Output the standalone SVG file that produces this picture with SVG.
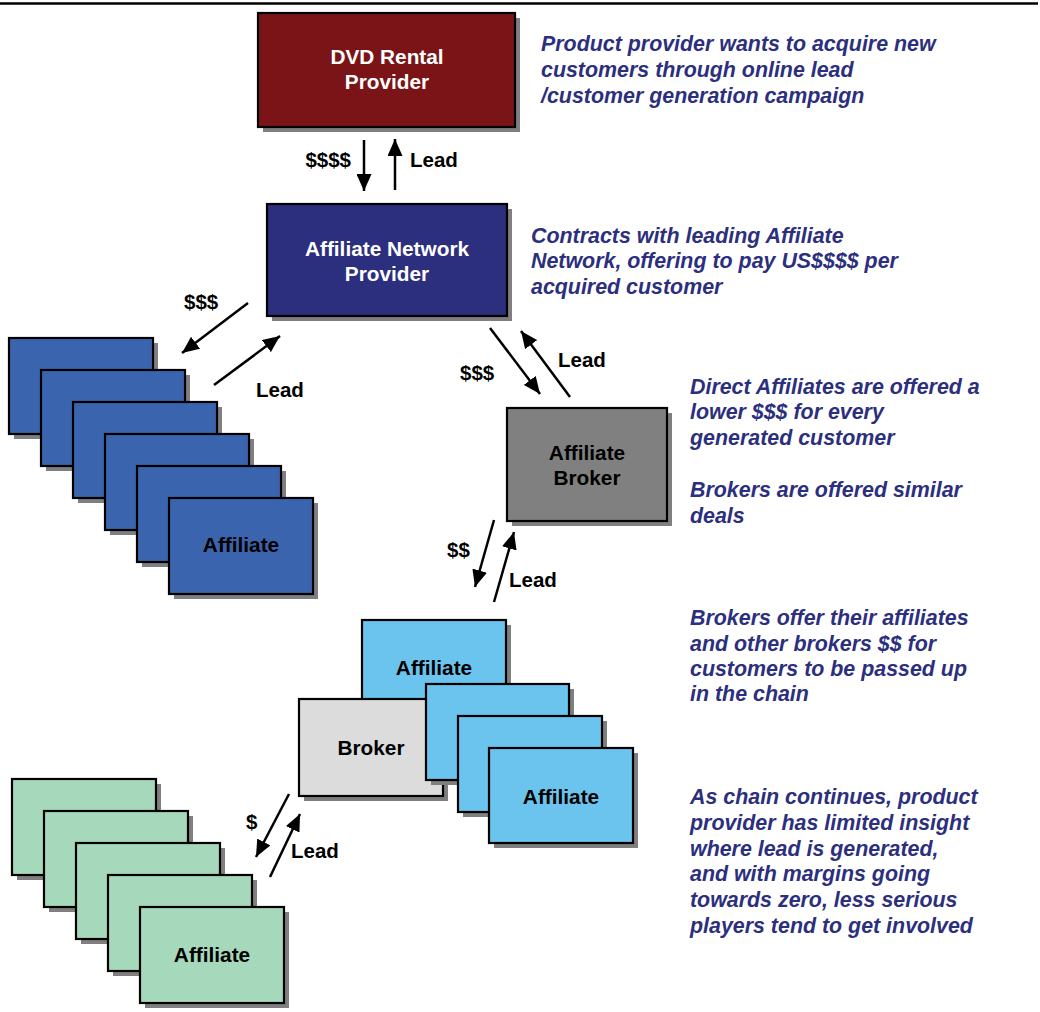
<svg xmlns="http://www.w3.org/2000/svg" width="1040" height="1012" viewBox="0 0 1040 1012">
<defs>
<style>
.sh{fill:#7f7f7f;stroke:none}
.bx{stroke:#000;stroke-width:2.2}
.dvd{fill:#7b1416}
.anp{fill:#2c2f7e}
.blue{fill:#3a65ae}
.gray{fill:#808080}
.lgray{fill:#dcdcdc}
.lblue{fill:#6bc4ee}
.green{fill:#a6d8bb}
.nt{font-family:"Liberation Sans",Arial,sans-serif;font-weight:bold;font-size:20.8px;text-anchor:middle}
.w{fill:#fff}
.k{fill:#000}
.lbl{font-family:"Liberation Sans",Arial,sans-serif;font-weight:bold;font-size:20.5px;fill:#000}
.note{font-family:"Liberation Sans",Arial,sans-serif;font-weight:bold;font-style:italic;font-size:21.4px;fill:#2c2f7e}
.ar{stroke:#000;stroke-width:2.5;fill:none;marker-end:url(#ah)}
</style>
<marker id="ah" markerUnits="userSpaceOnUse" markerWidth="17" markerHeight="15" refX="17" refY="7.5" orient="auto" viewBox="0 0 17 15">
<path d="M0,0 L17,7.5 L0,15 Z" fill="#000"/>
</marker>
</defs>
<rect width="1040" height="1012" fill="#fff"/>
<line x1="0" y1="3.5" x2="1038" y2="3.5" stroke="#000" stroke-width="2.5"/>

<g id="dvd-rental-provider">
<rect class="sh" x="263" y="18" width="257" height="114"/>
<rect class="bx dvd" x="258" y="13" width="257" height="114"/>
<text class="nt w" x="387" y="64">DVD Rental</text>
<text class="nt w" x="387" y="89">Provider</text>
</g>

<g id="affiliate-network-provider">
<rect class="sh" x="272" y="209" width="240" height="112"/>
<rect class="bx anp" x="267" y="204" width="240" height="112"/>
<text class="nt w" x="387" y="256">Affiliate Network</text>
<text class="nt w" x="387" y="281">Provider</text>
</g>

<g id="direct-affiliates">
<rect class="sh" x="14" y="343" width="144" height="96"/>
<rect class="bx blue" x="9" y="338" width="144" height="96"/>
<rect class="sh" x="46" y="375" width="144" height="96"/>
<rect class="bx blue" x="41" y="370" width="144" height="96"/>
<rect class="sh" x="78" y="407" width="144" height="96"/>
<rect class="bx blue" x="73" y="402" width="144" height="96"/>
<rect class="sh" x="110" y="439" width="144" height="96"/>
<rect class="bx blue" x="105" y="434" width="144" height="96"/>
<rect class="sh" x="142" y="471" width="144" height="96"/>
<rect class="bx blue" x="137" y="466" width="144" height="96"/>
<rect class="sh" x="174" y="503" width="144" height="96"/>
<rect class="bx blue" x="169" y="498" width="144" height="96"/>
<text class="nt k" x="241" y="552">Affiliate</text>
</g>

<g id="affiliate-broker">
<rect class="sh" x="512" y="413" width="160" height="113"/>
<rect class="bx gray" x="507" y="408" width="160" height="113"/>
<text class="nt k" x="587" y="460">Affiliate</text>
<text class="nt k" x="587" y="485">Broker</text>
</g>

<g id="broker-affiliate-top">
<rect class="sh" x="367" y="625" width="144" height="96"/>
<rect class="bx lblue" x="362" y="620" width="144" height="96"/>
<text class="nt k" x="434" y="675">Affiliate</text>
</g>

<g id="broker">
<rect class="sh" x="304" y="704" width="144" height="97"/>
<rect class="bx lgray" x="299" y="699" width="144" height="97"/>
<text class="nt k" x="371" y="755">Broker</text>
</g>

<g id="broker-affiliates">
<rect class="sh" x="431" y="689" width="143" height="96"/>
<rect class="bx lblue" x="426" y="684" width="143" height="96"/>
<rect class="sh" x="463" y="721" width="144" height="96"/>
<rect class="bx lblue" x="458" y="716" width="144" height="96"/>
<rect class="sh" x="494" y="753" width="144" height="95"/>
<rect class="bx lblue" x="489" y="748" width="144" height="95"/>
<text class="nt k" x="561" y="804">Affiliate</text>
</g>

<g id="sub-affiliates">
<rect class="sh" x="17" y="784" width="144" height="96"/>
<rect class="bx green" x="12" y="779" width="144" height="96"/>
<rect class="sh" x="49" y="816" width="144" height="96"/>
<rect class="bx green" x="44" y="811" width="144" height="96"/>
<rect class="sh" x="81" y="848" width="144" height="96"/>
<rect class="bx green" x="76" y="843" width="144" height="96"/>
<rect class="sh" x="113" y="880" width="144" height="96"/>
<rect class="bx green" x="108" y="875" width="144" height="96"/>
<rect class="sh" x="145" y="912" width="144" height="96"/>
<rect class="bx green" x="140" y="907" width="144" height="96"/>
<text class="nt k" x="212" y="962">Affiliate</text>
</g>

<g id="connectors">
<line class="ar" x1="364" y1="140" x2="364" y2="191"/>
<line class="ar" x1="395" y1="190" x2="395" y2="139"/>
<text class="lbl" x="351" y="167" text-anchor="end">$$$$</text>
<text class="lbl" x="410" y="167">Lead</text>

<line class="ar" x1="248" y1="303" x2="182" y2="353"/>
<line class="ar" x1="214" y1="385" x2="280" y2="336"/>
<text class="lbl" x="184" y="309">$$$</text>
<text class="lbl" x="256" y="397">Lead</text>

<line class="ar" x1="490" y1="328" x2="540" y2="394"/>
<line class="ar" x1="570" y1="397" x2="521" y2="331"/>
<text class="lbl" x="460" y="380">$$$</text>
<text class="lbl" x="558" y="367">Lead</text>

<line class="ar" x1="494" y1="520" x2="475" y2="587"/>
<line class="ar" x1="494" y1="602" x2="514" y2="532"/>
<text class="lbl" x="447" y="557">$$</text>
<text class="lbl" x="509" y="587">Lead</text>

<line class="ar" x1="289" y1="794" x2="256" y2="857"/>
<line class="ar" x1="270" y1="877" x2="300" y2="814"/>
<text class="lbl" x="246" y="829">$</text>
<text class="lbl" x="291" y="858">Lead</text>
</g>

<g id="notes">
<text class="note" x="541" y="51">Product provider wants to acquire new</text>
<text class="note" x="541" y="77">customers through online lead</text>
<text class="note" x="541" y="103">/customer generation campaign</text>

<text class="note" x="531" y="243">Contracts with leading Affiliate</text>
<text class="note" x="531" y="268">Network, offering to pay US$$$$ per</text>
<text class="note" x="531" y="294">acquired customer</text>

<text class="note" x="690" y="394">Direct Affiliates are offered a</text>
<text class="note" x="690" y="419">lower $$$ for every</text>
<text class="note" x="690" y="445">generated customer</text>
<text class="note" x="690" y="497">Brokers are offered similar</text>
<text class="note" x="690" y="523">deals</text>

<text class="note" x="690" y="625">Brokers offer their affiliates</text>
<text class="note" x="690" y="651">and other brokers $$ for</text>
<text class="note" x="690" y="676">customers to be passed up</text>
<text class="note" x="690" y="701">in the chain</text>

<text class="note" x="690" y="804">As chain continues, product</text>
<text class="note" x="690" y="830">provider has limited insight</text>
<text class="note" x="690" y="856">where lead is generated,</text>
<text class="note" x="690" y="881">and with margins going</text>
<text class="note" x="690" y="907">towards zero, less serious</text>
<text class="note" x="690" y="933">players tend to get involved</text>
</g>
</svg>
